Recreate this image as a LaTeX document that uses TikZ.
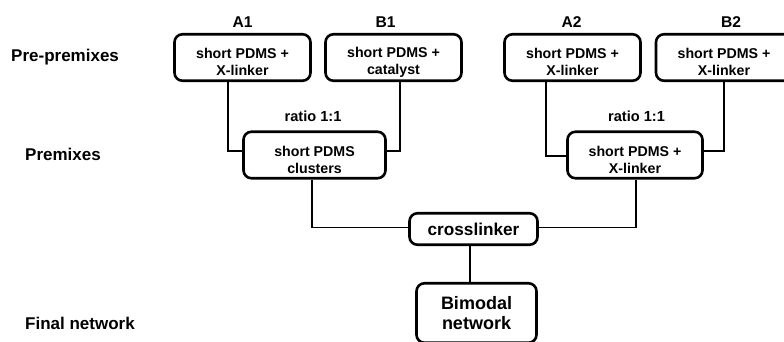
\documentclass[tikz,border=0pt]{standalone}
\usepackage{fontspec}
\setmainfont{Liberation Sans}
\usetikzlibrary{positioning}
\newcommand\lowtxt{\rule{0pt}{19.5pt}}
\tikzstyle{every picture}+=[font=\bfseries]
\tikzstyle{mixbox}=[draw, line width=2.6pt, rounded corners=8pt, align=center, inner sep=0pt,
  minimum width=136pt, minimum height=46.5pt, font=\bfseries\fontsize{14.2}{17}\selectfont]
\tikzstyle{link}=[line width=1.6pt]
\tikzstyle{rowlabel}=[anchor=west, inner sep=0pt, font=\bfseries\fontsize{17}{20}\selectfont]
\tikzstyle{mixname}=[inner sep=0pt, font=\bfseries\fontsize{15.6}{18}\selectfont]
\tikzstyle{ratiolabel}=[inner sep=0pt, font=\bfseries\fontsize{14.6}{17}\selectfont]

\begin{document}
\begin{tikzpicture}[x=1pt,y=1pt]
\useasboundingbox (0,0) rectangle (784,-341);

%% row names
\node[rowlabel] (rowpre) at (11,-57) {Pre-premixes};
\node[rowlabel] (rowpm) at (25,-154) {Premixes};
\node[rowlabel] (rowfinal) at (25,-323) {Final network};

%% pre-premixes
\node[mixbox] (a1) at (242.5,-57.5) {\lowtxt short PDMS +\\X-linker};
\node[mixbox] (b1) at (393.5,-57.5) {\lowtxt short PDMS +\\catalyst};
\node[mixbox] (a2) at (572.5,-57.5) {\lowtxt short PDMS +\\X-linker};
\node[mixbox] (b2) at (724,-57.5) {\lowtxt short PDMS +\\X-linker};

\node[mixname] (a1name) at ([yshift=35pt]a1.center) {A1};
\node[mixname] (b1name) at ([xshift=-8pt,yshift=35pt]b1.center) {B1};
\node[mixname] (a2name) at ([xshift=-1pt,yshift=35pt]a2.center) {A2};
\node[mixname] (b2name) at ([xshift=7pt,yshift=35pt]b2.center) {B2};

%% premixes
\node[mixbox, minimum width=142pt] (pm1) at (314.5,-155) {\lowtxt short PDMS\\clusters};
\node[mixbox, minimum width=135pt] (pm2) at (635,-155) {\lowtxt short PDMS +\\X-linker};

\node[ratiolabel] (ratio1) at (313,-116) {ratio 1:1};
\node[ratiolabel] (ratio2) at (636.5,-116) {ratio 1:1};

%% final
\node[mixbox, minimum width=128pt, minimum height=31.5pt,
      font=\bfseries\fontsize{17.2}{20}\selectfont] (cl) at (473.5,-229) {crosslinker};
\node[mixbox, minimum width=120pt, minimum height=59.5pt,
      font=\bfseries\fontsize{18}{20}\selectfont] (bm) at (476.5,-313) {Bimodal\\network};

%% connectors
\draw[link] ([xshift=-14.5pt]a1.south) |- ([yshift=4pt]pm1.west);
\draw[link] ([xshift=6.5pt]b1.south) |- ([yshift=4pt]pm1.east);
\draw[link] ([xshift=-26.5pt]a2.south) |- ([yshift=-1pt]pm2.west);
\draw[link] (b2.south) |- ([yshift=4pt]pm2.east);
\draw[link] ([xshift=-2.5pt]pm1.south) |- ([yshift=1.5pt]cl.west);
\draw[link] ([xshift=1pt]pm2.south) |- ([yshift=1.5pt]cl.east);
\draw[link] ([xshift=-3.5pt]cl.south) -- ([xshift=-3.5pt]cl.south |- bm.north);

\end{tikzpicture}
\end{document}
